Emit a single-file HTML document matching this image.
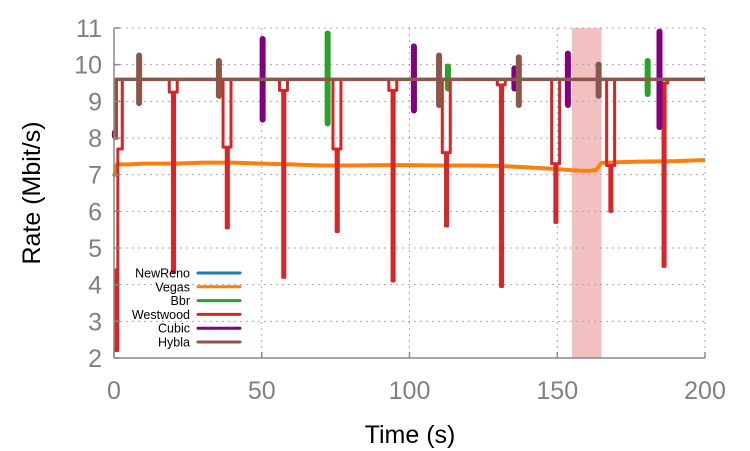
<!DOCTYPE html>
<html><head><meta charset="utf-8"><style>
html,body{margin:0;padding:0;background:#fff;}
svg{display:block;font-family:"Liberation Sans",sans-serif;}
</style></head><body>
<svg id="chart" width="750" height="451" viewBox="0 0 750 451" xmlns="http://www.w3.org/2000/svg">
<g id="grid"></g>
<g id="marks"></g>
<g id="axes"></g>
<text transform="translate(40,193) rotate(-90)" text-anchor="middle" font-size="25" fill="#000">Rate (Mbit/s)</text>
<text x="410" y="443" text-anchor="middle" font-size="25" fill="#000">Time (s)</text>
<g id="legend"></g>
</svg>
<script>
const xTicks=[0,50,100,150,200];
const yTicks=[2,3,4,5,6,7,8,9,10,11];
const shadeRange=[155,165];
const vegasT=[0,1,5,10,20,30,40,50,60,70,80,90,100,110,120,130,140,150,155,160,163,165,170,180,190,200];
const vegasV=[6.95,7.28,7.28,7.3,7.3,7.33,7.33,7.3,7.28,7.25,7.25,7.26,7.26,7.25,7.25,7.24,7.2,7.15,7.12,7.1,7.12,7.32,7.34,7.36,7.37,7.4];
const hyblaBase=9.6;
const hyblaT=[8.5,35.5,110,137,164];
const hyblaLo=[8.95,9.15,8.9,8.9,9.15];
const hyblaHi=[10.25,10.1,10.25,10.2,10.0];
const cubicT=[0.3,50.3,101.5,135.5,153.6,184.6];
const cubicLo=[8.05,8.5,8.75,9.35,8.9,8.3];
const cubicHi=[8.15,10.7,10.5,9.9,10.3,10.9];
const bbrT=[72.3,113,180.6];
const bbrLo=[8.4,9.35,9.2];
const bbrHi=[10.85,9.95,10.1];
const westT=[20,38.2,57.3,75.4,94.3,112.4,131,149.4,168,186];
const westMid=[9.25,7.75,9.3,7.7,9.3,7.6,9.45,7.3,7.25,9.5];
const westLow=[4.35,5.55,4.2,5.45,4.1,5.6,3.95,5.7,6.0,4.5];
const legendNames=["NewReno","Vegas","Bbr","Westwood","Cubic","Hybla"];
const legendColors=["#1f77b4","#ff7f0e","#2ca02c","#d62728","#800080","#8c564b"];

const NS="http://www.w3.org/2000/svg";
const X0=114,X1=705,Y0=358,Y1=28;
const xs=t=>X0+(t-0)/(200-0)*(X1-X0);
const ys=v=>Y0-(v-2)/(11-2)*(Y0-Y1);
function mk(tag,attrs,parent){const e=document.createElementNS(NS,tag);for(const k in attrs)e.setAttribute(k,attrs[k]);parent.appendChild(e);return e;}
const grid=document.getElementById('grid'),marks=document.getElementById('marks'),axes=document.getElementById('axes'),legend=document.getElementById('legend');

let sh=mk('rect',{x:xs(shadeRange[0]),y:Y1,width:xs(shadeRange[1])-xs(shadeRange[0]),height:Y0-Y1,fill:'#f2c0c0'},grid);


yTicks.forEach(v=>{
  if(v===2)return;
  let g=mk('line',{x1:X0,x2:X1,y1:ys(v),y2:ys(v),stroke:'#aaa','stroke-width':1,'stroke-dasharray':'2,4'},grid);
  
  
});
xTicks.forEach(t=>{
  if(t===0)return;
  let g=mk('line',{x1:xs(t),x2:xs(t),y1:Y1,y2:Y0,stroke:'#aaa','stroke-width':1,'stroke-dasharray':'2,4'},grid);
  
  
});
let la=mk('line',{x1:X0,x2:X0,y1:Y1,y2:Y0,stroke:'#888','stroke-width':1.5},axes);


let ba=mk('line',{x1:X0,x2:X1,y1:Y0,y2:Y0,stroke:'#888','stroke-width':1.5},axes);


yTicks.forEach(v=>{
  let tk=mk('line',{x1:X0,x2:X0+6,y1:ys(v),y2:ys(v),stroke:'#888','stroke-width':1.5},axes);
  
  
  let tx=mk('text',{x:X0-12,y:ys(v)+9,'text-anchor':'end','font-size':25,fill:'#808080'},axes);
  tx.textContent=v;
  
  
});
xTicks.forEach(t=>{
  let tk=mk('line',{x1:xs(t),x2:xs(t),y1:Y0,y2:Y0-6,stroke:'#888','stroke-width':1.5},axes);
  
  
  let tx=mk('text',{x:xs(t),y:399,'text-anchor':'middle','font-size':25,fill:'#808080'},axes);
  tx.textContent=t;
  
  
});
let vd=vegasT.map((t,i)=>(i?'L':'M')+xs(t)+','+ys(vegasV[i])).join('');
let vp=mk('path',{d:vd,fill:'none',stroke:legendColors[1],'stroke-width':4,'stroke-linejoin':'round'},marks);


function spikes(T,Lo,Hi,color,name){
  T.forEach((t,i)=>{
    let s=mk('line',{x1:xs(t),x2:xs(t),y1:ys(Lo[i]),y2:ys(Hi[i]),stroke:color,'stroke-width':6,'stroke-linecap':'round'},marks);
    
    
  });
}
spikes(bbrT,bbrLo,bbrHi,legendColors[2],'bbr-spike');
let wd='M'+xs(0)+','+ys(4.4)+'L'+xs(0.6)+','+ys(4.4)+'L'+xs(0.6)+','+ys(2.2)+'L'+xs(1.3)+','+ys(2.2)+'L'+xs(1.3)+','+ys(7.7)+'L'+xs(2.8)+','+ys(7.7)+'L'+xs(2.8)+','+ys(hyblaBase);
westT.forEach((t,i)=>{
  wd+='L'+xs(t-1.3)+','+ys(hyblaBase)+'L'+xs(t-1.3)+','+ys(westMid[i])+'L'+xs(t-0.2)+','+ys(westMid[i])+'L'+xs(t-0.2)+','+ys(westLow[i])+'L'+xs(t+0.5)+','+ys(westLow[i])+'L'+xs(t+0.5)+','+ys(westMid[i])+'L'+xs(t+1.4)+','+ys(westMid[i])+'L'+xs(t+1.4)+','+ys(hyblaBase);
});
wd+='L'+xs(200)+','+ys(hyblaBase);
let wp=mk('path',{d:wd,fill:'none',stroke:legendColors[3],'stroke-width':3,'stroke-linejoin':'round'},marks);


spikes(cubicT,cubicLo,cubicHi,legendColors[4],'cubic-spike');
spikes(hyblaT,hyblaLo,hyblaHi,legendColors[5],'hybla-spike');
let hp=mk('path',{d:'M'+xs(0)+','+ys(8.0)+'L'+xs(0.8)+','+ys(8.0)+'L'+xs(0.8)+','+ys(hyblaBase)+'L'+xs(200)+','+ys(hyblaBase),fill:'none',stroke:legendColors[5],'stroke-width':3.5},marks);


legendNames.forEach((n,i)=>{
  let y=273+i*13.8;
  let tx=mk('text',{x:190,y:y+4.5,'text-anchor':'end','font-size':12.5,fill:'#000'},legend);
  tx.textContent=n;
  
  
  let ln=mk('line',{x1:198,x2:240,y1:y,y2:y,stroke:legendColors[i],'stroke-width':3,'stroke-linecap':'round'},legend);
  
  
});
</script>
</body></html>
